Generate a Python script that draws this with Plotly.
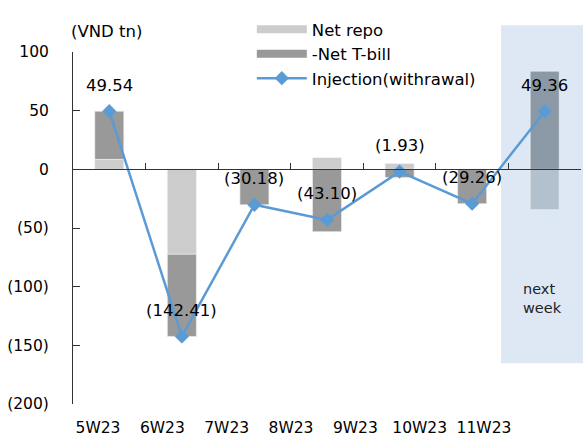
import plotly.graph_objects as go

weeks = ["5W23", "6W23", "7W23", "8W23", "9W23", "10W23", "11W23"]
net_repo = [8.5, -72.4, 0.0, 10.0, 5.0, 0.0, -34.34]
net_tbill = [41.04, -70.01, -30.18, -53.10, -6.93, -29.26, 83.70]
injection = [49.54, -142.41, -30.18, -43.10, -1.93, -29.26, 49.36]
y_ticks = [-200, -150, -100, -50, 0, 50, 100]


def fmt(v, dec=2):
    s = f"{abs(v):.{dec}f}"
    return f"({s})" if v < 0 else s


FONT = "DejaVu Sans"
n = len(weeks)
REPO_C, TBILL_C, LINE_C = "#cccccc", "#999999", "#5b9bd5"
repo_colors = [REPO_C] * (n - 1) + ["#b3c1ce"]
tbill_colors = [TBILL_C] * (n - 1) + ["#8b99a6"]

fig = go.Figure()
fig.add_trace(go.Bar(x=weeks, y=net_repo, name="Net repo", width=0.4, showlegend=False,
                     marker=dict(color=repo_colors, line=dict(color="#f2f2f2", width=0.6))))
fig.add_trace(go.Bar(x=weeks, y=net_tbill, name="-Net T-bill", width=0.4, showlegend=False,
                     marker=dict(color=tbill_colors, line=dict(color="#f2f2f2", width=0.6))))
# legend keys drawn as wide swatches (no data)
fig.add_trace(go.Scatter(x=[None], y=[None], name="Net repo", mode="lines",
                         line=dict(color=REPO_C, width=8)))
fig.add_trace(go.Scatter(x=[None], y=[None], name="-Net T-bill", mode="lines",
                         line=dict(color=TBILL_C, width=8)))
fig.add_trace(go.Scatter(x=weeks, y=injection, name="Injection(withrawal)",
                         mode="lines+markers",
                         line=dict(color=LINE_C, width=2.5),
                         marker=dict(symbol="diamond", size=11, color=LINE_C)))
# carrier for the lower category label row
fig.add_trace(go.Scatter(x=weeks, y=injection, xaxis="x2", mode="markers",
                         marker=dict(opacity=0), showlegend=False, hoverinfo="skip"))

annotations = []
for w, v in zip(weeks, injection):
    annotations.append(dict(x=w, y=v, xref="x", yref="y", text=fmt(v), showarrow=False,
                            yshift=26, font=dict(family=FONT, size=16.5, color="#000")))
annotations.append(dict(x=0.065, y=1.059, xref="paper", yref="paper", text="(VND tn)",
                        xanchor="center", yanchor="middle",
                        showarrow=False, font=dict(family=FONT, size=16.5, color="#000")))
annotations.append(dict(x=0.882, y=0.301, xref="paper", yref="paper", text="next<br>week",
                        xanchor="left", yanchor="middle", align="left", showarrow=False,
                        font=dict(family=FONT, size=14.5, color="#222")))

fig.update_layout(
    width=583, height=439,
    margin=dict(l=73, r=2, t=52, b=32),
    paper_bgcolor="white", plot_bgcolor="white",
    barmode="relative",
    font=dict(family=FONT, size=15.5, color="#000"),
    showlegend=True,
    legend=dict(x=0.352, y=1.1135, xanchor="left", yanchor="top",
                bgcolor="rgba(0,0,0,0)", font=dict(family=FONT, size=16.5),
                itemwidth=50, tracegroupgap=0, traceorder="normal"),
    xaxis=dict(type="category", categoryorder="array", categoryarray=weeks,
               range=[-0.5, n - 0.5], anchor="free", position=2 / 3,
               showline=True, linecolor="#333", linewidth=1,
               ticks="inside", tickson="boundaries", ticklen=6, tickcolor="#333",
               showticklabels=False, showgrid=False, zeroline=False, fixedrange=True),
    xaxis2=dict(type="category", categoryorder="array", categoryarray=weeks,
                overlaying="x", anchor="y", side="bottom",
                range=[-0.389, 7.508], showline=False, ticks="", showgrid=False,
                zeroline=False, ticklabelstandoff=12,
                tickfont=dict(family=FONT, size=15.5, color="#000")),
    yaxis=dict(range=[-200, 100], tickvals=y_ticks,
               ticktext=[fmt(v, 0) for v in y_ticks],
               showline=True, linecolor="#333", linewidth=1,
               ticks="inside", ticklen=7, tickcolor="#333",
               showgrid=False, zeroline=False, ticklabelstandoff=20,
               tickfont=dict(family=FONT, size=15.5, color="#000")),
    shapes=[dict(type="rect", xref="paper", yref="paper", x0=0.8425, x1=1.004,
                 y0=0.1155, y1=1.076, fillcolor="#dde8f4", line=dict(width=0),
                 layer="below")],
    annotations=annotations,
)

fig.write_html("out.html")
